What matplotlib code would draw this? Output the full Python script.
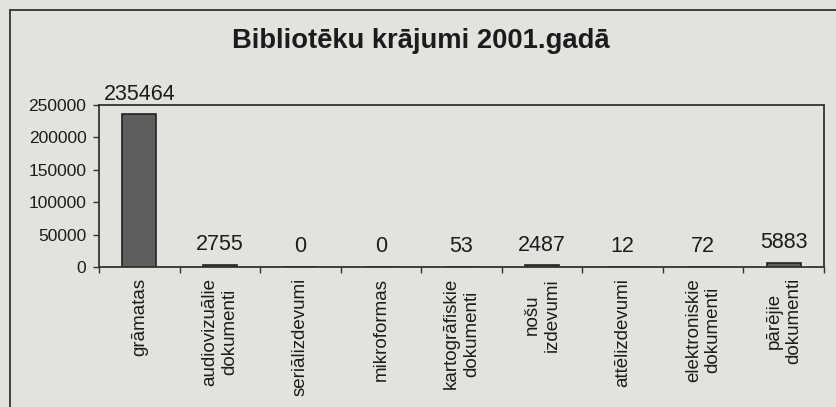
import numpy as np
import matplotlib.pyplot as plt
from matplotlib.patches import Rectangle

plt.rcParams['font.family'] = ['Liberation Sans', 'DejaVu Sans']

categories = ['grāmatas', 'audiovizuālie\ndokumenti', 'seriālizdevumi', 'mikroformas',
              'kartogrāfiskie\ndokumenti', 'nošu\nizdevumi', 'attēlizdevumi',
              'elektroniskie\ndokumenti', 'pārējie\ndokumenti']
values = [235464, 2755, 0, 0, 53, 2487, 12, 72, 5883]
yticks = [0, 50000, 100000, 150000, 200000, 250000]

bg = '#e2e2df'
ink = '#1c1c1c'

W, H = 837, 407
fig = plt.figure(figsize=(W / 100, H / 100), dpi=100, facecolor=bg)

# outer frame of the chart, running off the right and bottom edge
fig.patches.append(Rectangle((10 / W, -0.1), 1.2, 1 - 10 / H + 0.1, transform=fig.transFigure,
                             fill=False, edgecolor='#333333', linewidth=1.3))

ax = fig.add_axes([99 / W, 1 - 267 / H, (824 - 99) / W, (267 - 105) / H])
ax.set_facecolor(bg)

x = np.arange(len(categories))
ax.bar(x, values, width=0.42, color='#5e5e5e', edgecolor='#222222', linewidth=1.2)

for xi, v in zip(x, values):
    ax.annotate(f'{v}', (xi, v), xytext=(0, 7), textcoords='offset points',
                ha='center', va='bottom', fontsize=15.5, color=ink)

ax.set_xlim(-0.5, len(categories) - 0.5)
ax.set_ylim(0, 250000)
ax.set_yticks(yticks)
ax.set_yticklabels([str(t) for t in yticks], fontsize=12.5, color=ink)
ax.tick_params(axis='y', length=4, width=1, pad=5, color='#333333')

ax.set_xticks(x)
ax.set_xticklabels(categories, rotation=90, fontsize=13.5, color=ink,
                   ha='center', va='top', multialignment='center')
ax.tick_params(axis='x', length=0, pad=8)
ax.set_xticks(np.arange(len(categories) + 1) - 0.5, minor=True)
ax.tick_params(axis='x', which='minor', length=4, width=1, color='#333333')

for s in ax.spines.values():
    s.set_linewidth(1.3)
    s.set_color('#333333')

fig.text(0.503, 1 - 41 / H, 'Bibliotēku krājumi 2001.gadā', ha='center', va='center',
         fontsize=19.7, fontweight='bold', color=ink)

fig.savefig('out.png', dpi=100, facecolor=bg)
